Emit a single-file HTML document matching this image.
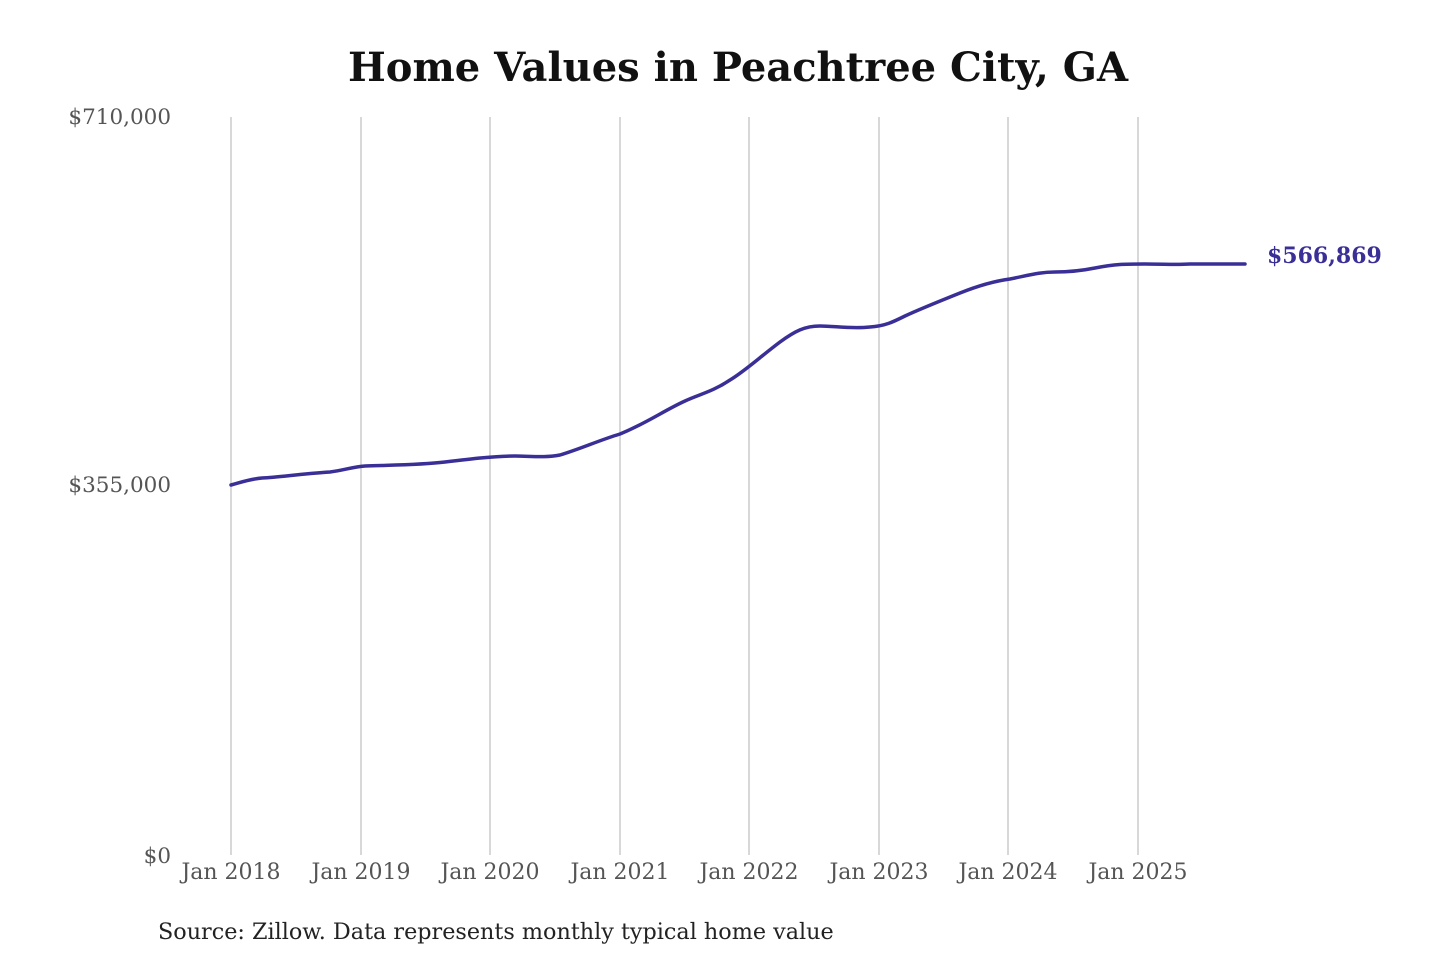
<!DOCTYPE html>
<html><head><meta charset="utf-8"><style>
html,body{margin:0;padding:0;background:#fff;width:1440px;height:960px;overflow:hidden}
</style></head><body>
<svg width="1440" height="960" xmlns="http://www.w3.org/2000/svg" font-family="DejaVu Serif, Liberation Serif, serif">
<rect width="1440" height="960" fill="#fff"/>
<text x="738" y="81" text-anchor="middle" font-size="40" font-weight="bold" fill="#111">Home Values in Peachtree City, GA</text>
<g stroke="#c4c4c4" stroke-width="1.3">
<line x1="231" y1="117" x2="231" y2="855"/><line x1="361" y1="117" x2="361" y2="855"/>
<line x1="490" y1="117" x2="490" y2="855"/><line x1="620" y1="117" x2="620" y2="855"/>
<line x1="749" y1="117" x2="749" y2="855"/><line x1="879" y1="117" x2="879" y2="855"/>
<line x1="1008" y1="117" x2="1008" y2="855"/><line x1="1138" y1="117" x2="1138" y2="855"/>
</g>
<g font-size="21.5" fill="#555" text-anchor="end">
<text x="171" y="124">$710,000</text>
<text x="171" y="492">$355,000</text>
<text x="171" y="863">$0</text>
</g>
<g font-size="22" fill="#555" text-anchor="middle">
<text x="231" y="879">Jan 2018</text><text x="361" y="879">Jan 2019</text>
<text x="490" y="879">Jan 2020</text><text x="620" y="879">Jan 2021</text>
<text x="749" y="879">Jan 2022</text><text x="879" y="879">Jan 2023</text>
<text x="1008" y="879">Jan 2024</text><text x="1138" y="879">Jan 2025</text>
</g>
<path fill="none" stroke="#3a2f96" stroke-width="3.5" stroke-linecap="round"
d="M231,485 C242,482 250,479 262,478 C280,477 300,474 330,472 C345,470 352,467 365,466 C390,465 420,465 445,462 C470,459 495,456 515,456 C530,456 545,458 560,455 C580,449 600,440 620,434 C645,424 665,410 685,401 C700,394 712,392 730,380 C745,371 760,357 780,342 C795,331 805,326 820,326 C835,326 850,329 870,327 C885,326 893,322 905,316 C920,309 940,301 960,293 C980,285 995,281 1010,279 C1030,275 1040,272 1055,272 C1070,272 1080,271 1095,268 C1115,264 1125,264 1145,264 C1165,264 1175,265 1190,264 C1210,264 1230,264 1245,264"/>
<text x="1267" y="263" font-size="22" font-weight="bold" fill="#3a2f96">$566,869</text>
<text x="158" y="939" font-size="22.3" fill="#222">Source: Zillow. Data represents monthly typical home value</text>
</svg>
</body></html>
